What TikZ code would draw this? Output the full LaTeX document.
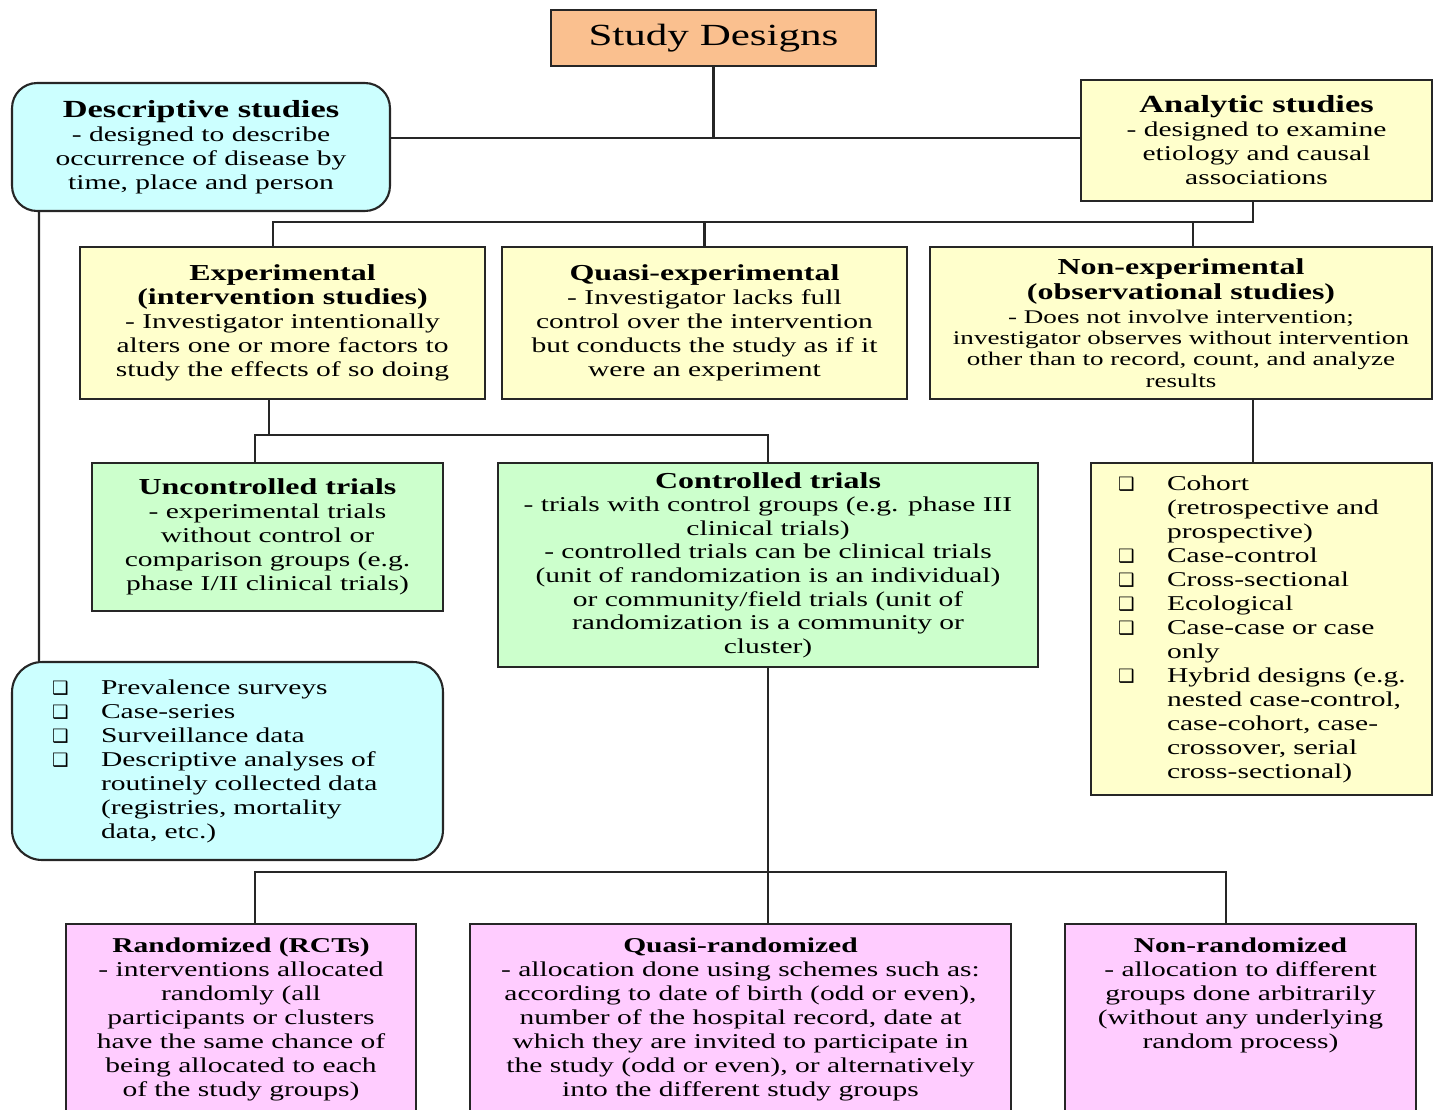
\documentclass[tikz,border=0pt]{standalone}
\usepackage{fontspec}
\setmainfont{Liberation Serif}[FakeStretch=1.4]
\newfontfamily\bulfont{DejaVu Sans}
\usetikzlibrary{positioning}

\definecolor{boxorange}{RGB}{250,192,143}
\definecolor{boxcyan}{RGB}{204,255,255}
\definecolor{boxyellow}{RGB}{255,255,204}
\definecolor{boxgreen}{RGB}{204,255,204}
\definecolor{boxpink}{RGB}{255,204,255}

\newcommand{\bitem}[1]{\mbox{\makebox[0.98cm][l]{\bulfont\fontsize{10.5}{12}\selectfont ❑}#1}}
\newcommand{\bcont}[1]{\mbox{\hspace*{0.98cm}#1}}
\newcommand{\ttl}[1]{{\fontsize{13}{13.66}\selectfont\bfseries #1}}
\newcommand{\bigttl}[1]{{\fontsize{14}{13.66}\selectfont\bfseries #1}}

\begin{document}
\begin{tikzpicture}[
    x=0.02cm, y=-0.02cm,
    box/.style={
        rectangle,
        draw=black!85,
        line width=1.2pt,
        align=center,
        inner sep=2pt,
        font=\fontsize{12}{13.66}\selectfont
    },
    listbox/.style={
        box,
        align=left
    },
    pinkbox/.style={
        box,
        fill=boxpink,
        anchor=north,
        inner ysep=8pt,
        text depth=4cm
    },
    link/.style={
        draw=black!85,
        line width=1.3pt
    }
]
    \useasboundingbox (0,0) rectangle (1433,1109);

    % Nodes
    \node [box, fill=boxorange, minimum width=6.5cm, minimum height=1.12cm,
           font=\fontsize{17.5}{20}\selectfont] (design) at (713.5,38) {Study Designs};

    \node [box, fill=boxcyan, rounded corners=0.5cm, minimum width=7.56cm, minimum height=2.56cm] (desc) at (201,147)
        {\bigttl{Descriptive studies}\\ - designed to describe\\ occurrence of disease by\\ time, place and person};
    \node [box, fill=boxyellow, minimum width=7.02cm, minimum height=2.42cm] (ana) at (1256.5,140.5)
        {\bigttl{Analytic studies}\\ - designed to examine\\ etiology and causal\\ associations};

    \node [box, fill=boxyellow, minimum width=8.1cm, minimum height=3.04cm] (exp) at (282.5,323)
        {\ttl{Experimental}\\ \ttl{(intervention studies)}\\ - Investigator intentionally\\ alters one or more factors to\\ study the effects of so doing};
    \node [box, fill=boxyellow, minimum width=8.1cm, minimum height=3.04cm] (qexp) at (704.5,323)
        {\ttl{Quasi-experimental}\\ - Investigator lacks full\\ control over the intervention\\ but conducts the study as if it\\ were an experiment};
    \node [box, fill=boxyellow, minimum width=10.04cm, minimum height=3.04cm,
           font=\fontsize{11}{12}\selectfont] (nexp) at (1181,323)
        {\ttl{Non-experimental}\\[2pt] \ttl{(observational studies)}\\[2pt] - Does not involve intervention;\\ investigator observes without intervention\\ other than to record, count, and analyze\\ results};

    \node [box, fill=boxgreen, minimum width=7.02cm, minimum height=2.96cm] (unctrl) at (267.5,537)
        {\ttl{Uncontrolled trials}\\ - experimental trials\\ without control or\\ comparison groups (e.g.\\ phase I/II clinical trials)};
    \node [box, fill=boxgreen, minimum width=10.8cm, minimum height=4.08cm,
           font=\fontsize{12}{13.4}\selectfont] (ctrl) at (768,565)
        {\ttl{Controlled trials}\\ - trials with control groups (e.g. phase III\\ clinical trials)\\ - controlled trials can be clinical trials\\ (unit of randomization is an individual)\\ or community/field trials (unit of\\ randomization is a community or\\ cluster)};

    \node [listbox, fill=boxyellow, minimum width=6.82cm, minimum height=6.64cm, text width=5.74cm] (cohort) at (1261.5,629)
        {\bitem{Cohort}\\ \bcont{(retrospective and}\\ \bcont{prospective)}\\ \bitem{Case-control}\\ \bitem{Cross-sectional}\\
         \bitem{Ecological}\\ \bitem{Case-case or case}\\ \bcont{only}\\ \bitem{Hybrid designs (e.g.}\\
         \bcont{nested case-control,}\\ \bcont{case-cohort, case-}\\ \bcont{crossover, serial}\\ \bcont{cross-sectional)}};
    \node [listbox, fill=boxcyan, rounded corners=0.6cm, minimum width=8.62cm, minimum height=3.96cm, text width=7.02cm] (dlist) at (227.5,761)
        {\bitem{Prevalence surveys}\\ \bitem{Case-series}\\ \bitem{Surveillance data}\\ \bitem{Descriptive analyses of}\\
         \bcont{routinely collected data}\\ \bcont{(registries, mortality}\\ \bcont{data, etc.)}};

    \node [pinkbox, minimum width=7.0cm] (rand) at (241,923)
        {\textbf{Randomized (RCTs)}\\ - interventions allocated\\ randomly (all\\ participants or clusters\\ have the same chance of\\ being allocated to each\\ of the study groups)};
    \node [pinkbox, minimum width=10.82cm] (qrand) at (740.5,923)
        {\textbf{Quasi-randomized}\\ - allocation done using schemes such as:\\ according to date of birth (odd or even),\\ number of the hospital record, date at\\ which they are invited to participate in\\ the study (odd or even), or alternatively\\ into the different study groups};
    \node [pinkbox, minimum width=7.02cm] (nrand) at (1240.5,923)
        {\textbf{Non-randomized}\\ - allocation to different\\ groups done arbitrarily\\ (without any underlying\\ random process)};

    % Connectors
    \coordinate (top) at (713.5,138);
    \coordinate (abus) at (0,222);
    \coordinate (ebus) at (0,435);
    \coordinate (cbus) at (0,872);

    \draw [link] (design.south) -- (design.south |- top);
    \draw [link] (desc.east |- top) -- (ana.west |- top);
    \draw [link] ([xshift=-0.07cm]ana.south) |- ([xshift=-0.19cm]exp.north |- abus) -- ([xshift=-0.19cm]exp.north);
    \draw [link] (qexp.north |- abus) -- (qexp.north);
    \draw [link] ([xshift=0.24cm]nexp.north |- abus) -- ([xshift=0.24cm]nexp.north);
    \draw [link] ([xshift=-0.27cm]exp.south) -- ([xshift=-0.27cm]exp.south |- ebus);
    \draw [link] ([xshift=-0.25cm]unctrl.north) |- (ctrl.north |- ebus) -- (ctrl.north);
    \draw [link] ([xshift=-0.17cm]nexp.south -| cohort.north) -- ([xshift=-0.17cm]cohort.north);
    \draw [link] ([xshift=0.56cm]desc.south west) -- ([xshift=0.56cm]dlist.north west);
    \draw [link] (ctrl.south) -- (ctrl.south |- qrand.north);
    \draw [link] ([xshift=0.28cm]rand.north) |- ([xshift=-0.29cm]nrand.north |- cbus) -- ([xshift=-0.29cm]nrand.north);
\end{tikzpicture}
\end{document}
